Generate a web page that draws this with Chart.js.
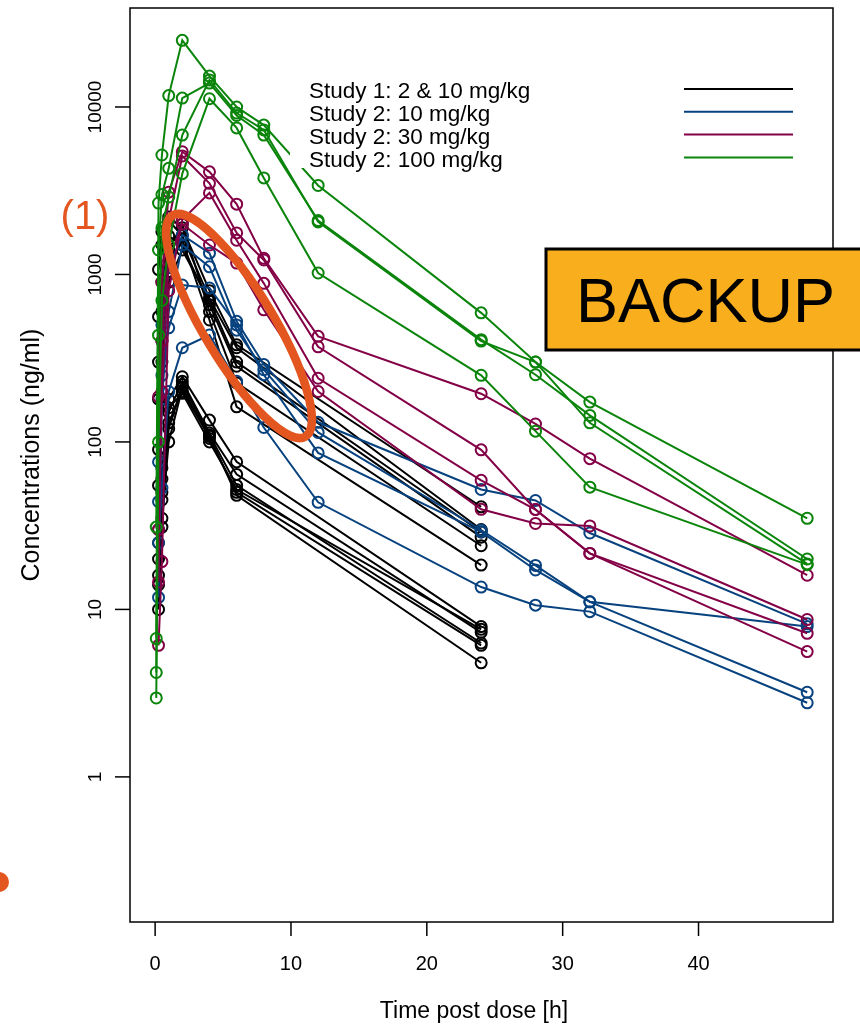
<!DOCTYPE html>
<html>
<head>
<meta charset="utf-8">
<title>Concentration-time profiles</title>
<script src="https://cdn.jsdelivr.net/npm/chart.js@4.4.0/dist/chart.umd.min.js"></script>
<style>
  html, body { margin: 0; padding: 0; background: #fff; }
  #wrap { width: 860px; height: 1029px; position: relative; }
</style>
</head>
<body>
<div id="wrap"><canvas id="pkChart" width="860" height="1029"></canvas></div>
<script>
// Sampling times (h)
const timesStudy1 = [0.25, 0.5, 1, 2, 4, 6, 24];
const timesStudy2 = [0.25, 0.5, 1, 2, 4, 6, 8, 12, 24, 28, 32, 48];
const timesStudy2High = [0.083, 0.25, 0.5, 1, 2, 4, 6, 8, 12, 24, 28, 32, 48];

// Study 1 (2 & 10 mg/kg), one row per animal, ng/ml
const study1Conc = [
  [1070, 1800, 2200, 1900, 800, 380, 41],
  [560, 1500, 2100, 1700, 720, 365, 30],
  [300, 900, 1700, 1500, 660, 283, 27],
  [180, 600, 1400, 2000, 600, 225, 24],
  [90, 400, 1100, 1600, 535, 162, 18.4],
  [55, 300, 900, 1400, 700, 300, 29],
  [20, 60, 180, 245, 135, 76, 7.9],
  [14, 45, 150, 230, 113, 64, 7.3],
  [25, 31, 120, 220, 110, 55, 6.3],
  [10, 35, 100, 210, 105, 50, 6.1],
  [16, 50, 130, 200, 108, 48, 4.8],
  [30, 70, 160, 195, 100, 52, 7.6]
];

// Study 2, 10 mg/kg
const study2Dose10 = [
  [76, 500, 1100, 1720, 1340, 525, 290, 131, 52, 44.7, 28.6, 8.2],
  [11.8, 180, 600, 1500, 1110, 465, 270, 114, 29.8, 18.3, 11.1, 7.9],
  [44, 250, 480, 865, 830, 500, 252, 86, 29, 17.2, 11.1, 3.2],
  [25, 53, 200, 365, 435, 230, 122, 43.6, 13.6, 10.6, 9.7, 2.77]
];

// Study 2, 30 mg/kg
const study2Dose30 = [
  [186, 900, 3100, 5400, 4100, 2630, 1250, 427, 194, 128, 79.5, 16],
  [14.6, 400, 2100, 5100, 3500, 1770, 1220, 370, 89.7, 39.5, 21.6, 7.2],
  [6.1, 19.3, 800, 2120, 3070, 1600, 885, 240, 59, 39.5, 21.6, 5.6],
  [30, 200, 1200, 2000, 1500, 1170, 615, 200, 39.6, 32.6, 31.5, 8.7]
];

// Study 2, 100 mg/kg
const study2Dose100 = [
  [31, 2670, 5170, 11700, 25000, 15300, 10000, 7800, 3400, 590, 300, 173, 35],
  [6.7, 1400, 3000, 4300, 11300, 13900, 8900, 6800, 2100, 408, 252, 144, 20],
  [4.2, 434, 1900, 2900, 6800, 14500, 9200, 7300, 2060, 400, 300, 130, 18.7],
  [2.96, 100, 700, 1500, 4000, 11200, 7500, 3770, 1020, 250, 116, 53.7, 18.5]
];

const legendLabels = ["Study 1: 2 & 10 mg/kg", "Study 2: 10 mg/kg", "Study 2: 30 mg/kg", "Study 2: 100 mg/kg"];
const groupColors = ["#000000", "#07427f", "#830046", "#0a840a"];
const xTickValues = [0, 10, 20, 30, 40];
const yTickValues = [1, 10, 100, 1000, 10000];

const FONT = "'Liberation Sans', Arial, Helvetica, sans-serif";
const ORANGE = "#e4561f";

function toPoints(times, conc) {
  return conc.map((v, i) => ({ x: times[i], y: v }));
}

function subjectDataset(times, conc, color) {
  return {
    data: toPoints(times, conc),
    showLine: true,
    borderColor: color,
    borderWidth: 2,
    pointRadius: 5.5,
    pointBorderWidth: 2,
    pointBackgroundColor: "rgba(0,0,0,0)",
    pointBorderColor: color,
    tension: 0
  };
}

// first dataset is drawn on top, so the 100 mg/kg group goes first
const datasets = [];
study2Dose100.forEach(c => datasets.push(subjectDataset(timesStudy2High, c, groupColors[3])));
study2Dose30.forEach(c => datasets.push(subjectDataset(timesStudy2, c, groupColors[2])));
study2Dose10.forEach(c => datasets.push(subjectDataset(timesStudy2, c, groupColors[1])));
study1Conc.forEach(c => datasets.push(subjectDataset(timesStudy1, c, groupColors[0])));

function seg(ctx, x1, y1, x2, y2) {
  ctx.beginPath();
  ctx.moveTo(x1, y1);
  ctx.lineTo(x2, y2);
  ctx.stroke();
}

// Frame, ticks, tick labels and axis titles
const axisFrame = {
  id: "axisFrame",
  afterDatasetsDraw(chart) {
    const { ctx, chartArea: a, scales: { x, y } } = chart;
    ctx.save();
    ctx.strokeStyle = "#000";
    ctx.fillStyle = "#000";
    ctx.lineWidth = 1.5;
    ctx.strokeRect(a.left, a.top, a.right - a.left, a.bottom - a.top);

    ctx.font = "20px " + FONT;
    ctx.textAlign = "center";
    ctx.textBaseline = "middle";
    xTickValues.forEach(v => {
      const px = x.getPixelForValue(v);
      seg(ctx, px, a.bottom, px, a.bottom + 14);
      ctx.fillText(String(v), px, 964);
    });

    ctx.font = "19px " + FONT;
    yTickValues.forEach(v => {
      const py = y.getPixelForValue(v);
      seg(ctx, a.left - 15, py, a.left, py);
      ctx.save();
      ctx.translate(96, py);
      ctx.rotate(-Math.PI / 2);
      ctx.fillText(String(v), 0, 0);
      ctx.restore();
    });

    ctx.font = "23px " + FONT;
    ctx.fillText("Time post dose [h]", 474, 1012);
    ctx.font = "25px " + FONT;
    ctx.save();
    ctx.translate(32, 455);
    ctx.rotate(-Math.PI / 2);
    ctx.fillText("Concentrations (ng/ml)", 0, 0);
    ctx.restore();
    ctx.restore();
  }
};

// Legend on a white box, plus the slide markings
const overlays = {
  id: "overlays",
  afterDraw(chart) {
    const ctx = chart.ctx;
    ctx.save();

    ctx.fillStyle = "#fff";
    ctx.fillRect(290, 76, 515, 92);
    ctx.font = "22.5px " + FONT;
    ctx.textAlign = "left";
    ctx.textBaseline = "middle";
    legendLabels.forEach((lab, i) => {
      const ly = 89 + i * 22.8;
      ctx.fillStyle = "#000";
      ctx.fillText(lab, 309, ly + 3);
      ctx.strokeStyle = groupColors[i];
      ctx.lineWidth = 2;
      seg(ctx, 684, ly, 793, ly);
    });

    // ellipse around the early study 1 / 10 mg/kg profiles
    ctx.strokeStyle = ORANGE;
    ctx.lineWidth = 8.5;
    ctx.beginPath();
    ctx.ellipse(239, 326, 129, 35, 59 * Math.PI / 180, 0, Math.PI * 2);
    ctx.stroke();

    ctx.fillStyle = ORANGE;
    ctx.font = "40px " + FONT;
    ctx.textAlign = "center";
    ctx.fillText("(1)", 85, 218);

    ctx.beginPath();
    ctx.arc(-1, 882, 10, 0, Math.PI * 2);
    ctx.fill();

    ctx.fillStyle = "#f9ae1e";
    ctx.fillRect(546, 249, 320, 101);
    ctx.strokeStyle = "#000";
    ctx.lineWidth = 3;
    ctx.strokeRect(546, 249, 320, 101);
    ctx.fillStyle = "#000";
    ctx.font = "63px " + FONT;
    ctx.textAlign = "left";
    ctx.textBaseline = "alphabetic";
    ctx.fillText("BACKUP", 576, 322);

    ctx.restore();
  }
};

new Chart(document.getElementById("pkChart"), {
  type: "scatter",
  data: { datasets },
  options: {
    responsive: false,
    animation: false,
    devicePixelRatio: 1,
    layout: { padding: { left: 130, right: 27, top: 8, bottom: 107 } },
    plugins: { legend: { display: false }, tooltip: { enabled: false } },
    scales: {
      x: { type: "linear", min: -1.85, max: 49.9, display: false },
      y: { type: "logarithmic", min: 0.136, max: 39000, display: false }
    }
  },
  plugins: [axisFrame, overlays]
});
</script>
</body>
</html>
